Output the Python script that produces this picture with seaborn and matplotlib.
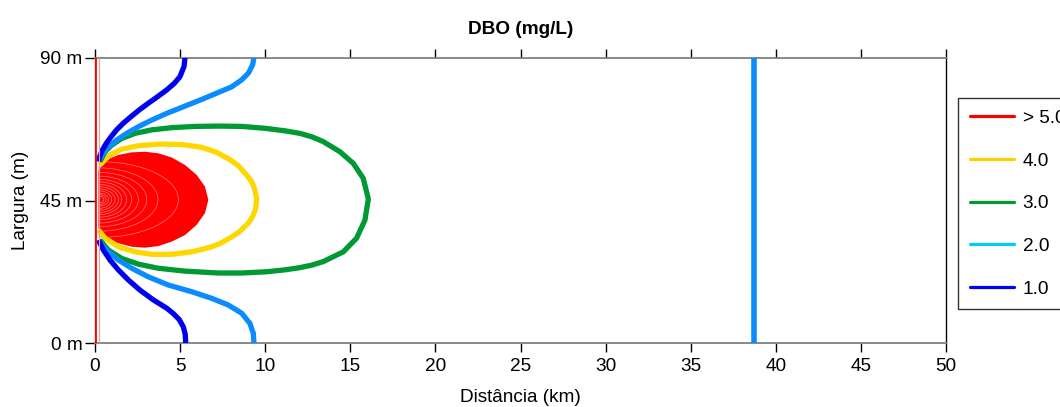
import matplotlib
matplotlib.use("Agg")
import matplotlib.pyplot as plt
from matplotlib.lines import Line2D
from matplotlib.patches import Arc
import seaborn as sns
import pandas as pd

# --- contour levels (mg/L) and their colours ---
levels = ["> 5.0", "4.0", "3.0", "2.0", "1.0"]
line_colors = {"4.0": "#FFD700", "3.0": "#009933", "2.0": "#0A8CFF", "1.0": "#0000F0"}
legend_colors = ["#FF0000", "#FFD000", "#009933", "#00CCFF", "#0000FF"]

# 1.0 mg/L contour, two branches (km, m)
c1_upper_x = [5.29, 5.23, 4.99, 4.66, 4.21, 3.68, 3.13, 2.60, 2.12, 1.66, 1.27, 0.94,
              0.67, 0.43, 0.27, 0.20]
c1_upper_y = [90.2, 87.3, 84.1, 82.0, 79.9, 77.8, 75.7, 73.6, 71.5, 69.4, 67.3, 65.1,
              63.1, 60.9, 58.8, 57.3]
c1_lower_x = [0.20, 0.49, 0.88, 1.37, 1.96, 2.64, 3.43, 4.21, 4.60, 4.95, 5.19, 5.30, 5.33]
c1_lower_y = [32.5, 29.4, 26.2, 23.1, 19.9, 16.7, 13.6, 11.0, 9.3, 7.4, 5.1, 2.8, 0.0]

# 2.0 mg/L contour, two branches
c2_upper_x = [9.34, 9.26, 9.01, 8.62, 8.03, 7.15, 6.17, 5.19, 4.21, 3.33, 2.55, 1.86,
              1.27, 0.82, 0.49, 0.25]
c2_upper_y = [90.2, 87.8, 85.2, 83.1, 80.9, 78.9, 76.7, 74.6, 72.5, 70.4, 68.3, 66.2,
              64.1, 62.0, 59.9, 57.8]
c2_lower_x = [0.25, 0.29, 0.78, 1.37, 2.16, 3.13, 4.31, 5.68, 6.86, 7.83, 8.62, 9.10,
              9.30, 9.34]
c2_lower_y = [32.5, 31.5, 28.8, 26.2, 23.6, 20.9, 18.3, 16.2, 14.1, 12.0, 9.4, 6.2,
              3.1, 0.0]
# far-field 2.0 mg/L isoline
c2_far_x = [38.72, 38.72]
c2_far_y = [0.0, 90.0]

# 3.0 mg/L contour (closed around the source)
c3_x = [0.29, 0.59, 0.98, 1.57, 2.35, 3.33, 4.50, 5.88, 7.25, 8.62, 9.99, 11.16,
        12.04, 12.75, 13.41, 14.39, 15.18, 15.76, 16.06, 15.86, 15.37, 14.59, 13.41,
        12.75, 12.04, 11.16, 10.09, 8.62, 7.25, 5.29, 3.72, 2.55, 1.57, 0.78, 0.29]
c3_y = [57.3, 60.4, 62.5, 64.6, 66.2, 67.3, 68.0, 68.4, 68.5, 68.4, 67.8, 67.0,
        66.2, 65.1, 63.6, 60.4, 56.7, 52.0, 45.5, 38.8, 33.1, 28.8, 25.7,
        24.6, 23.8, 23.1, 22.5, 22.1, 22.1, 22.7, 23.6, 24.9, 26.7, 29.4, 32.5]

# 4.0 mg/L contour
c4_x = [0.29, 0.78, 1.57, 2.55, 3.72, 5.09, 6.27, 7.15, 7.90, 8.42, 8.91, 9.20,
        9.36, 9.50, 9.44, 9.25, 9.01, 8.50, 8.03, 7.34, 6.86, 6.17, 5.68, 4.50,
        3.33, 2.35, 1.37, 0.59, 0.20]
c4_y = [56.2, 59.1, 61.2, 62.3, 62.8, 62.7, 61.8, 60.2, 58.0, 56.0, 53.0, 51.0,
        48.9, 45.7, 42.5, 39.8, 37.9, 35.2, 33.5, 31.4, 30.4, 29.4, 28.8, 28.0,
        28.0, 28.8, 30.4, 33.1, 35.7]

# region above 5.0 mg/L
c5_x = [0.20, 0.49, 0.88, 1.37, 2.16, 2.94, 3.72, 4.50, 5.29, 5.97, 6.46, 6.66,
        6.46, 5.97, 5.29, 4.50, 3.72, 2.94, 2.16, 1.37, 0.88, 0.49, 0.20]
c5_y = [54.6, 56.7, 58.3, 59.4, 60.2, 60.4, 59.9, 58.6, 56.2, 53.1, 49.4, 45.2,
        41.0, 37.3, 34.1, 32.0, 30.6, 30.1, 30.4, 31.5, 32.7, 34.1, 36.2]

# higher inner isolines: reach (km) and half-width (m)
inner_reach = [4.70, 3.50, 2.84, 2.35, 1.96, 1.66, 1.37, 1.18, 0.98, 0.78, 0.60, 0.45, 0.32]
inner_half = [12.0, 10.0, 8.6, 7.4, 6.4, 5.6, 4.8, 4.1, 3.4, 2.8, 2.1, 1.6, 1.1]

x_ticks = [0, 5, 10, 15, 20, 25, 30, 35, 40, 45, 50]
y_ticks = [0, 45, 90]
y_ticklabels = ["0 m", "45 m", "90 m"]

sns.set_theme(style="white")
plt.rcParams["font.family"] = ["Liberation Sans", "DejaVu Sans"]
plt.rcParams.update({"text.color": "black", "axes.labelcolor": "black",
                     "xtick.color": "black", "ytick.color": "black"})

fs = 13.7
fig = plt.figure(figsize=(10.60, 4.07), dpi=100)
ax = fig.add_axes([95 / 1060, 1 - 343 / 407, (946 - 95) / 1060, (343 - 58) / 407])

lw = 3.8


def draw(xs, ys, color, width=lw, z=3):
    df = pd.DataFrame({"x": xs, "y": ys})
    sns.lineplot(data=df, x="x", y="y", sort=False, estimator=None, color=color,
                 lw=width, ax=ax, zorder=z, solid_capstyle="butt",
                 solid_joinstyle="round", legend=False)


# source boundary
ax.axvline(0, color="#FF0000", lw=2.0, zorder=6)
ax.axvline(0.25, color="#FF9A9A", lw=0.8, zorder=6)

# filled core above 5.0 mg/L
ax.fill(c5_x, c5_y, color="#FF0000", lw=0, zorder=2)
for r, h in zip(inner_reach, inner_half):
    ax.add_patch(Arc((0.2, 45.3), 2 * r, 2 * h, theta1=-90, theta2=90,
                     color="#FF7A7A", lw=0.5, zorder=2.5))

draw(c4_x, c4_y, line_colors["4.0"])
draw(c3_x, c3_y, line_colors["3.0"])
draw(c2_upper_x, c2_upper_y, line_colors["2.0"])
draw(c2_lower_x, c2_lower_y, line_colors["2.0"])
draw(c2_far_x, c2_far_y, line_colors["2.0"], width=4.0)
draw(c1_upper_x, c1_upper_y, line_colors["1.0"])
draw(c1_lower_x, c1_lower_y, line_colors["1.0"])

ax.set_xlim(0, 50)
ax.set_ylim(0, 90)
ax.set_xticks(x_ticks)
ax.set_xticklabels([str(t) for t in x_ticks])
ax.set_yticks(y_ticks)
ax.set_yticklabels(y_ticklabels)
ax.tick_params(axis="x", which="both", direction="out", length=6.5, width=1,
               color="black", top=True, bottom=True, labelsize=fs, pad=4)
ax.tick_params(axis="y", which="both", direction="out", length=7, width=1,
               color="black", left=True, right=False, labelsize=fs, pad=2)

for side in ("top", "bottom"):
    ax.spines[side].set_color("#808080")
    ax.spines[side].set_linewidth(1.3)
ax.spines["right"].set_color("black")
ax.spines["right"].set_linewidth(1.0)
ax.spines["left"].set_color("#808080")
ax.spines["left"].set_linewidth(1.0)

ax.set_xlabel("Distância (km)", fontsize=fs, labelpad=10.5)
ax.set_ylabel("Largura (m)", fontsize=fs, labelpad=8)
ax.set_title("DBO (mg/L)", fontsize=fs, fontweight="bold", pad=17)

handles = [Line2D([0], [0], color=c, lw=2.3) for c in legend_colors]
leg = fig.legend(handles, levels, loc="upper left",
                 bbox_to_anchor=(958 / 1060, 1 - 98 / 407),
                 bbox_transform=fig.transFigure, frameon=True, fancybox=False,
                 fontsize=fs, handlelength=2.3, handletextpad=0.48,
                 labelspacing=1.33, borderpad=0.62, borderaxespad=0)
leg.get_frame().set_edgecolor("black")
leg.get_frame().set_linewidth(1.0)

fig.savefig("out.png", dpi=100)
